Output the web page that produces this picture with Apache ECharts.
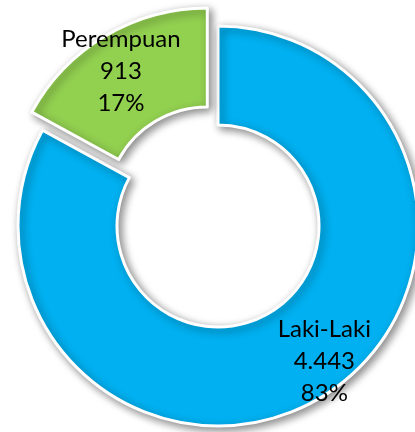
<!DOCTYPE html>
<html>
<head>
<meta charset="utf-8">
<script src="https://cdn.jsdelivr.net/npm/echarts@6/dist/echarts.min.js"></script>
<style>
  html, body { margin: 0; padding: 0; background: #fff; }
  #chart { width: 415px; height: 432px; }
</style>
</head>
<body>
<div id="chart"></div>
<script>
var categories = ["Laki-Laki", "Perempuan"];
var values = [4443, 913];
var colors = ["#00B0F0", "#92D050"];
var exploded = [false, true];

var myChart = echarts.init(document.getElementById("chart"));

function fmtNum(v) {
  // titik sebagai pemisah ribuan
  return String(v).replace(/\B(?=(\d{3})+(?!\d))/g, ".");
}

var seriesData = [];
for (var i = 0; i < categories.length; i++) {
  var off = i === 0 ? [28, 3] : [-8, -5];
  seriesData.push({
    name: categories[i],
    value: values[i],
    selected: exploded[i],
    itemStyle: { color: colors[i] },
    label: { offset: off },
    select: { label: { offset: off } }
  });
}

myChart.setOption({
  animation: false,
  series: [
    {
      type: "pie",
      center: [218, 226],
      radius: [101, 200],
      startAngle: 90,
      clockwise: true,
      selectedMode: "single",
      selectedOffset: 21,
      avoidLabelOverlap: false,
      itemStyle: {
        borderColor: "#fff",
        borderWidth: 3,
        shadowBlur: 8,
        shadowOffsetX: 3,
        shadowOffsetY: 3,
        shadowColor: "rgba(0,0,0,0.45)"
      },
      label: {
        show: true,
        position: "inside",
        color: "#000",
        fontFamily: "Lato",
        fontSize: 24,
        lineHeight: 32,
        formatter: function (p) {
          return p.name + "\n" + fmtNum(p.value) + "\n" + Math.round(p.percent) + "%";
        }
      },
      labelLine: { show: false },
      emphasis: { disabled: true },
      data: seriesData
    }
  ]
});
</script>
</body>
</html>
